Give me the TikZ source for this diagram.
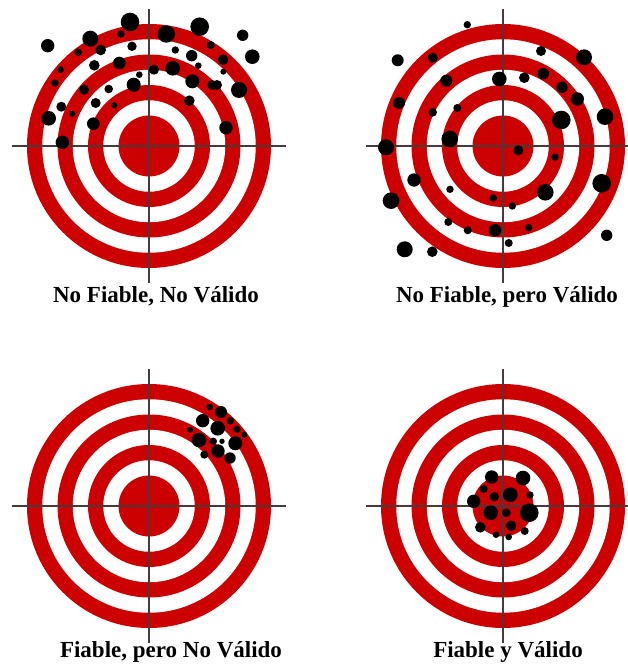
\documentclass[tikz,border=0pt]{standalone}
\usepackage{fontspec}
\setmainfont{Liberation Serif}
\definecolor{targetred}{RGB}{204,0,0}
\definecolor{hair}{RGB}{70,58,58}
\begin{document}
\begin{tikzpicture}[x=1pt, y=-1pt,
    target/.pic={
      \foreach \r/\c in {122/targetred, 106.75/white, 91.5/targetred, 76.25/white,
                         61/targetred, 45.75/white, 30.5/targetred}
        \fill[\c] (0,0) circle[radius=\r pt];
      \draw[hair, line width=1.6pt] (-137,0) -- (137,0) (0,-137) -- (0,137);
    },
    shot/.style={fill=black},
    caption/.style={anchor=base, font=\bfseries\fontsize{23}{23}\selectfont}
]
\useasboundingbox (0,0) rectangle (628,666);
\begin{scope}
\clip (0,0) rectangle (628,666);

% the four targets
\pic (nfnv) at (149,146) {target};
\pic (nfv)  at (503,146) {target};
\pic (fnv)  at (149,506) {target};
\pic (fv)   at (503,506) {target};

% No Fiable, No Valido
\foreach \x/\y/\r in {47.7/45.7/6.7, 90.3/38.7/8, 130/22/9.3, 121/34/3.7, 100.7/50/5.3,
    78.3/52.3/3.7, 132/46.3/4.7, 94.3/65.3/5.3, 119.3/63/6.3, 60.7/69.7/3.3, 55/83/3.7,
    84/89.7/5, 108.7/89/4.3, 139.3/74.7/3.3, 133.7/84.7/7, 95.7/103/5, 114.3/105.3/3,
    61.3/106.7/5, 72.3/113.7/3, 48.7/118.3/7.3, 93.3/123.7/6.3, 62.3/142.3/6.7,
    166.3/34/8.7, 199.7/26.7/9.3, 242.7/35.3/5.7, 175.3/50/3.7, 191.7/55.7/5.7,
    210.7/45/4, 223/59.7/5.3, 252.3/56.7/7.3, 154/69.7/5, 172.7/68.3/7.3, 198.3/65.7/3.3,
    223.3/71.7/3, 192.3/81.3/7, 212.3/85/5, 217/85/5, 239/90/8, 189.3/100.7/5.3,
    226/127.7/6.7}
  \fill[shot] (\x,\y) circle[radius=\r pt];

% No Fiable, pero Valido
\foreach \x/\y/\r in {467.3/24.7/3.7, 397.7/60.3/6, 432.7/57.7/5, 541/51/5, 584/57.3/8,
    446.3/80.7/6, 499.3/79/7.3, 524.3/77.7/5.3, 543.3/73.7/5.7, 562/87.3/5.7, 577.3/99/6.7,
    399/103/6, 432.7/112.3/4.3, 457.3/108/4, 561.3/120/9.3, 605/116.7/8.3, 449.7/139/8.3,
    386/147.3/8, 518.3/150.3/5, 555/157/3.7, 414/180/6.7, 601.7/183.3/9.3, 391/200.7/8.3,
    450/189.3/3.7, 545.3/192.3/8.3, 493.3/198/3.7, 512.3/206/3.7, 448.3/222/4,
    467.7/230.3/4, 495/230.3/6.3, 528.7/227.7/3.7, 508.7/243/4, 606.7/235.3/5.7,
    404.7/249.3/8, 432.3/251.7/5.3}
  \fill[shot] (\x,\y) circle[radius=\r pt];

% Fiable, pero No Valido
\foreach \x/\y/\r in {209.7/407/3.3, 221/412/6, 202.7/420.7/6.7, 230.3/420.7/3.7,
    217.7/428.3/7.3, 190/429.7/3, 237/429.3/3.7, 244.3/434.7/3, 199/440/7.3,
    213.3/441.3/3.7, 222/441.3/2.7, 235.3/443.3/7, 218/451/6.7, 204.3/454.7/4, 230/458/5.7}
  \fill[shot] (\x,\y) circle[radius=\r pt];

% Fiable y Valido
\foreach \x/\y/\r in {491.7/477/6.7, 523/478/7.3, 483.7/489/4, 494.3/496.7/4.7,
    510.3/494.7/7.3, 530/495/3.7, 473.7/501.3/6.7, 490.7/512.7/7.3, 506.3/512.7/4.3,
    529.3/512.7/9.3, 480.3/527.3/5.3, 511/525.7/5.3, 496/534.7/3.3, 508.7/537/3.3,
    524.7/531/4}
  \fill[shot] (\x,\y) circle[radius=\r pt];
\end{scope}

\node[caption] (capA) at (156,302) {No Fiable, No Válido};
\node[caption] (capB) at (507,302) {No Fiable, pero Válido};
\node[caption] (capC) at (171,657) {Fiable, pero No Válido};
\node[caption] (capD) at (508,657) {Fiable y Válido};
\end{tikzpicture}
\end{document}
